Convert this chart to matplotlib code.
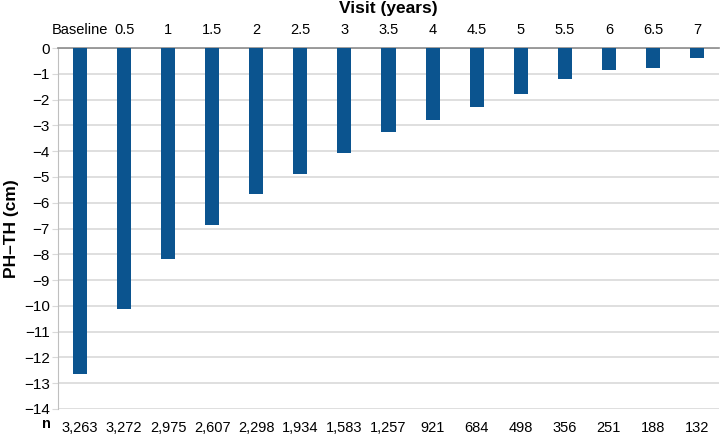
import matplotlib
matplotlib.use('Agg')
import matplotlib.pyplot as plt

plt.rcParams['font.family'] = ['Liberation Sans', 'DejaVu Sans']

# visits and mean PH-TH per visit
visits = ['Baseline', '0.5', '1', '1.5', '2', '2.5', '3', '3.5',
          '4', '4.5', '5', '5.5', '6', '6.5', '7']
ph_th = [-12.65, -10.12, -8.2, -6.87, -5.66, -4.88, -4.06, -3.27,
         -2.78, -2.29, -1.79, -1.19, -0.84, -0.79, -0.4]
n_counts = ['3,263', '3,272', '2,975', '2,607', '2,298', '1,934', '1,583',
            '1,257', '921', '684', '498', '356', '251', '188', '132']
yticks = list(range(0, -15, -1))

W, H = 721, 437
fig = plt.figure(figsize=(W / 100, H / 100), dpi=100)
ax = fig.add_axes([58 / W, 1 - 409 / H, 661 / W, 361 / H])

x = list(range(len(visits)))
ax.bar(x, ph_th, width=0.32, color='#0b548f', zorder=3)

ax.set_xlim(-0.5, len(visits) - 0.5)
ax.set_ylim(-14, 0)
ax.set_yticks(yticks)
ax.yaxis.grid(True, color='#d9d9d9', linewidth=1.2, zorder=0)

# visit labels on top
ax.xaxis.tick_top()
ax.set_xticks(x)
ax.set_xticklabels(visits)
ax.tick_params(axis='x', length=0, pad=8, labelsize=10.5)
ax.tick_params(axis='y', length=4, color='#d9d9d9', pad=2, labelsize=11)

for s in ['right', 'bottom']:
    ax.spines[s].set_visible(False)
ax.spines['top'].set_color('#8c8c8c')
ax.spines['top'].set_linewidth(1.2)
ax.spines['left'].set_color('#bfbfbf')

# n counts below
sec = ax.secondary_xaxis('bottom')
sec.set_xticks(x)
sec.set_xticklabels(n_counts)
sec.tick_params(length=0, pad=9, labelsize=10.5)
sec.spines['bottom'].set_visible(False)
fig.text(46 / W, 1 - 424 / H, 'n', fontsize=10.5, fontweight='bold',
         ha='center', va='center')

fig.text(388 / W, 1 - 9 / H, 'Visit (years)', fontsize=12.5,
         fontweight='bold', ha='center', va='center')
ax.set_ylabel('PH\u2013TH (cm)', fontsize=12.5, fontweight='bold')
ax.yaxis.set_label_coords(-39 / 661, 0.5)

fig.savefig('out.png', dpi=100)
